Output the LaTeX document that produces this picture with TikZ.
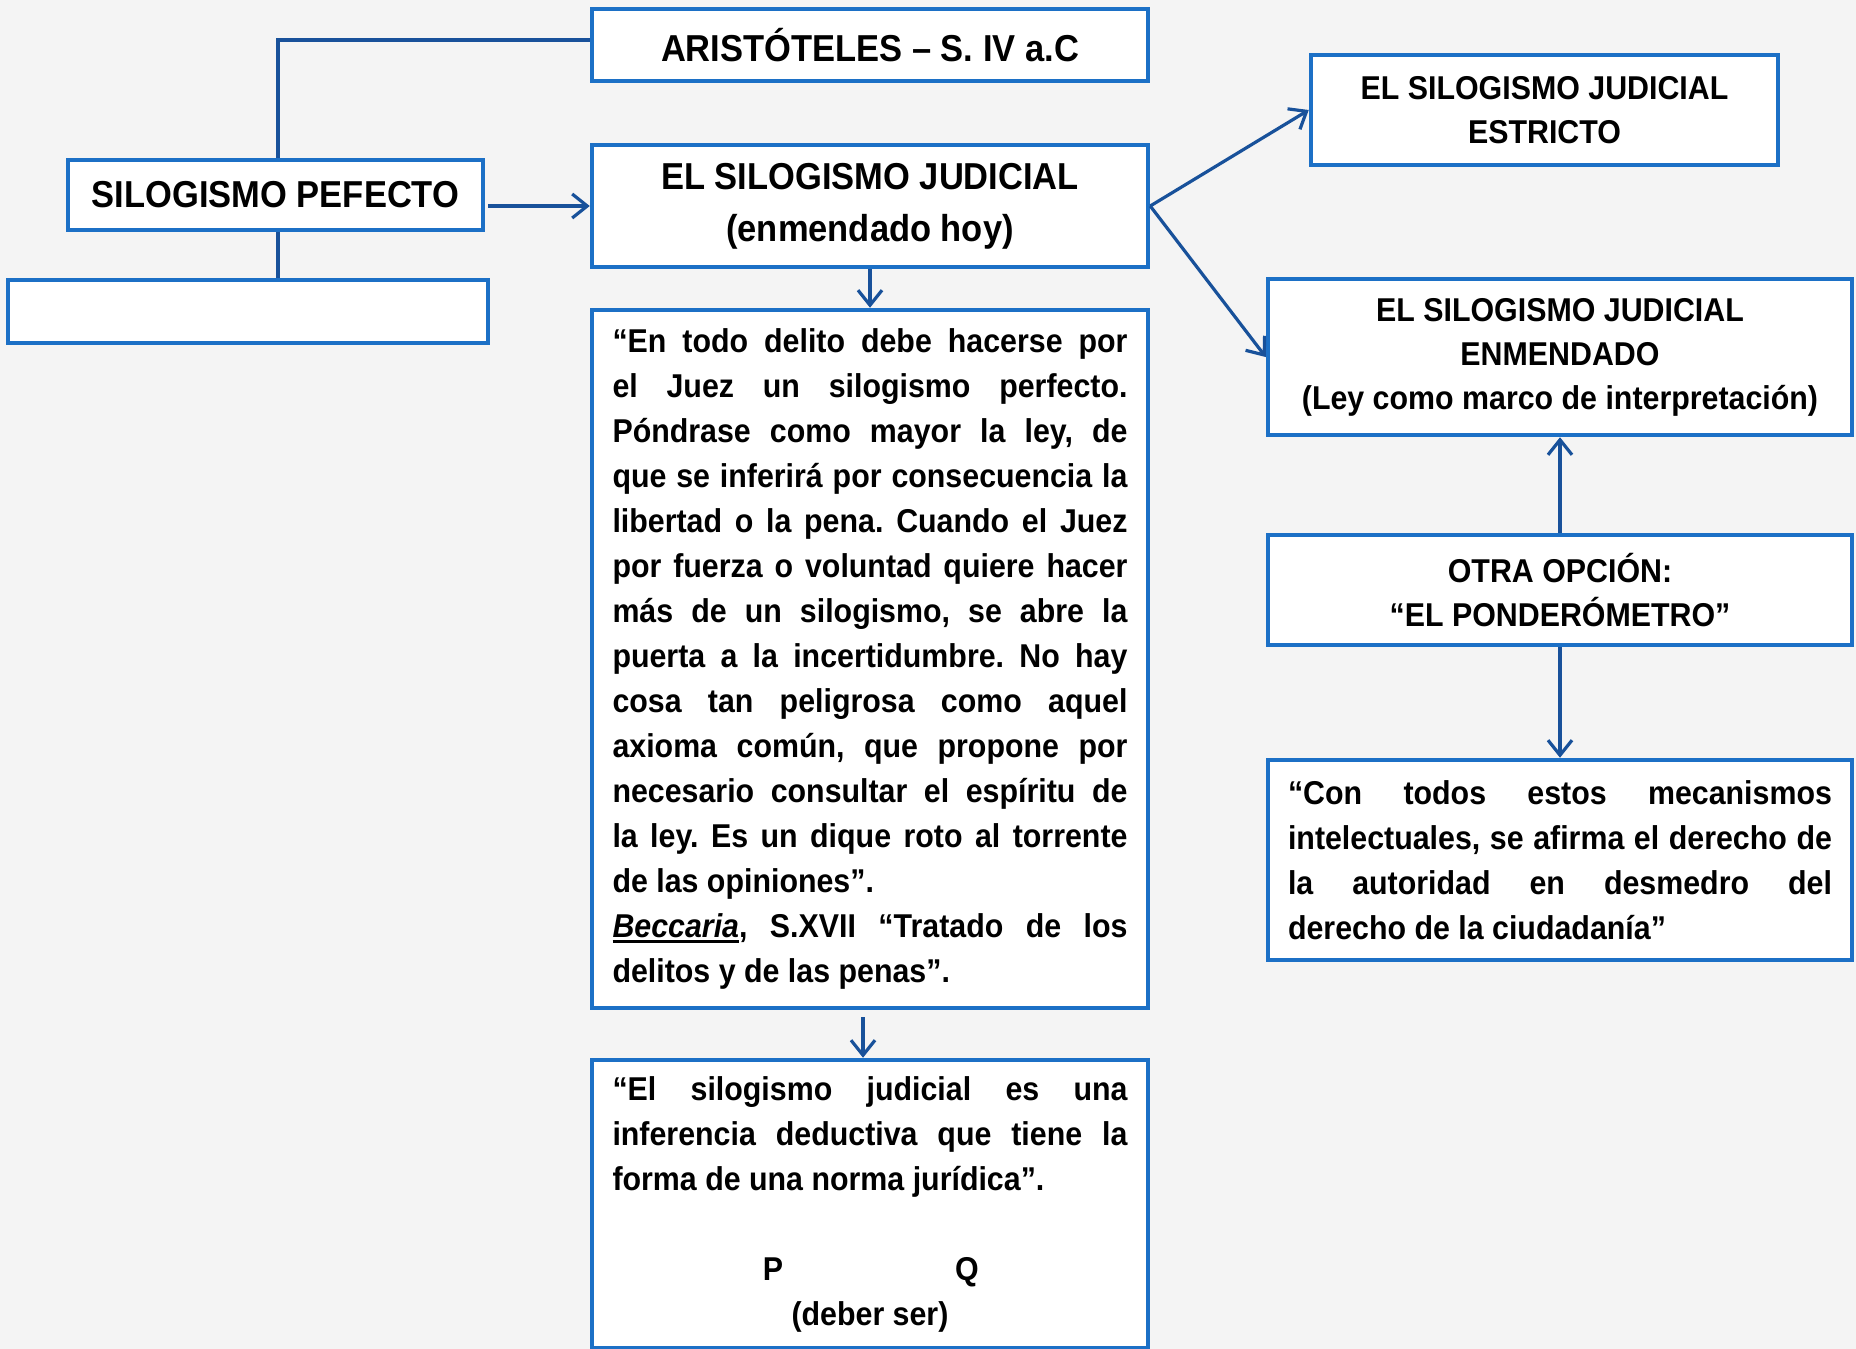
\documentclass[tikz,border=0pt]{standalone}
\usepackage{fontspec}
\setmainfont{Liberation Sans}[FakeStretch=0.92]
\usetikzlibrary{arrows.meta,calc}
\definecolor{boxblue}{HTML}{1C70C6}
\definecolor{linkblue}{HTML}{18519A}
\definecolor{bgc}{HTML}{F4F4F4}
\setlength\parindent{0pt}
\frenchspacing
\tolerance=10000 \hbadness=10000
\newcommand\myul[1]{\leavevmode\setbox0\hbox{#1}\rlap{\rule[-5pt]{\wd0}{2.6pt}}\box0}
\begin{document}
\begin{tikzpicture}[x=1pt,y=-1pt,
  box/.style={draw=boxblue, line width=4.5pt, fill=white, inner sep=0pt, align=center},
  bigfont/.style={font=\fontsize{37.5}{52}\selectfont\bfseries},
  midfont/.style={font=\fontsize{33}{44}\selectfont\bfseries},
  bodyfont/.style={font=\fontsize{33}{45}\selectfont\bfseries},
  link/.style={draw=linkblue, line width=3.2pt},
  arr/.style={link, -{Straight Barb[length=15pt,width=24pt]}}]
\fill[bgc] (0,0) rectangle (1856,1349);
\useasboundingbox (0,0) rectangle (1856,1349);

\node[box, bigfont, minimum width=556pt, minimum height=72pt] (arist) at (870,45) {ARISTÓTELES – S. IV a.C};
\node[box, bigfont, minimum width=556pt, minimum height=122pt] (judicial) at (870,206) {EL SILOGISMO JUDICIAL\\(enmendado hoy)};
\node[box, bigfont, minimum width=415pt, minimum height=70pt] (perf) at (275.5,195) {SILOGISMO PEFECTO};
\node[box, minimum width=480pt, minimum height=63pt] (empty) at (248,311.5) {};

\node[box, bodyfont, text width=515pt, align=justify, inner xsep=20.5pt, minimum height=698pt] (quote) at (870,659) {“En todo delito debe hacerse por\linebreak
el Juez un silogismo perfecto.\linebreak
Póndrase como mayor la ley, de\linebreak
que se inferirá por consecuencia la\linebreak
libertad o la pena. Cuando el Juez\linebreak
por fuerza o voluntad quiere hacer\linebreak
más de un silogismo, se abre la\linebreak
puerta a la incertidumbre. No hay\linebreak
cosa tan peligrosa como aquel\linebreak
axioma común, que propone por\linebreak
necesario consultar el espíritu de\linebreak
la ley. Es un dique roto al torrente\linebreak
de las opiniones”.\par
\myul{\itshape Beccaria}, S.XVII “Tratado de los\linebreak
delitos y de las penas”.};

\node[box, bodyfont, text width=515pt, align=justify, inner xsep=20.5pt, minimum height=288pt] (bottom) at (870,1204) {“El silogismo judicial es una\linebreak
inferencia deductiva que tiene la\linebreak
forma de una norma jurídica”.\par
\vspace{45pt}
{\centering\makebox[0pt]{P}\hspace{194pt}\makebox[0pt]{Q}\par
(deber ser)\par}};

\node[box, midfont, minimum width=467pt, minimum height=110pt] (estricto) at (1544.5,110) {EL SILOGISMO JUDICIAL\\ESTRICTO};
\node[box, midfont, minimum width=584pt, minimum height=156pt] (enmendado) at (1560,357) {EL SILOGISMO JUDICIAL\\ENMENDADO\\(Ley como marco de interpretación)};
\node[box, midfont, minimum width=584pt, minimum height=110pt] (otra) at (1560,590) {OTRA OPCIÓN:\\“EL PONDERÓMETRO”};
\node[box, bodyfont, text width=544pt, align=justify, inner xsep=20pt, minimum height=200pt] (con) at (1560,860) {“Con todos estos mecanismos\linebreak
intelectuales, se afirma el derecho de\linebreak
la autoridad en desmedro del\linebreak
derecho de la ciudadanía”};

\draw[link] ([yshift=5pt]arist.west) -| ([xshift=2.5pt]perf.north);
\draw[link] ([xshift=2.5pt]perf.south) -- ([xshift=2.5pt]perf.south |- empty.north);
\draw[arr] ([xshift=3pt]perf.east |- judicial.west) -- (judicial.west);
\draw[arr] (judicial.east) -- (estricto.west);
\draw[arr] (judicial.east) -- (enmendado.west);
\draw[arr] (judicial.south) -- (quote.north);
\draw[arr] ([xshift=-7pt,yshift=-7pt]quote.south) -- ([xshift=-7pt]bottom.north);
\draw[arr] (otra.north) -- (enmendado.south);
\draw[arr] (otra.south) -- (con.north);
\end{tikzpicture}
\end{document}
